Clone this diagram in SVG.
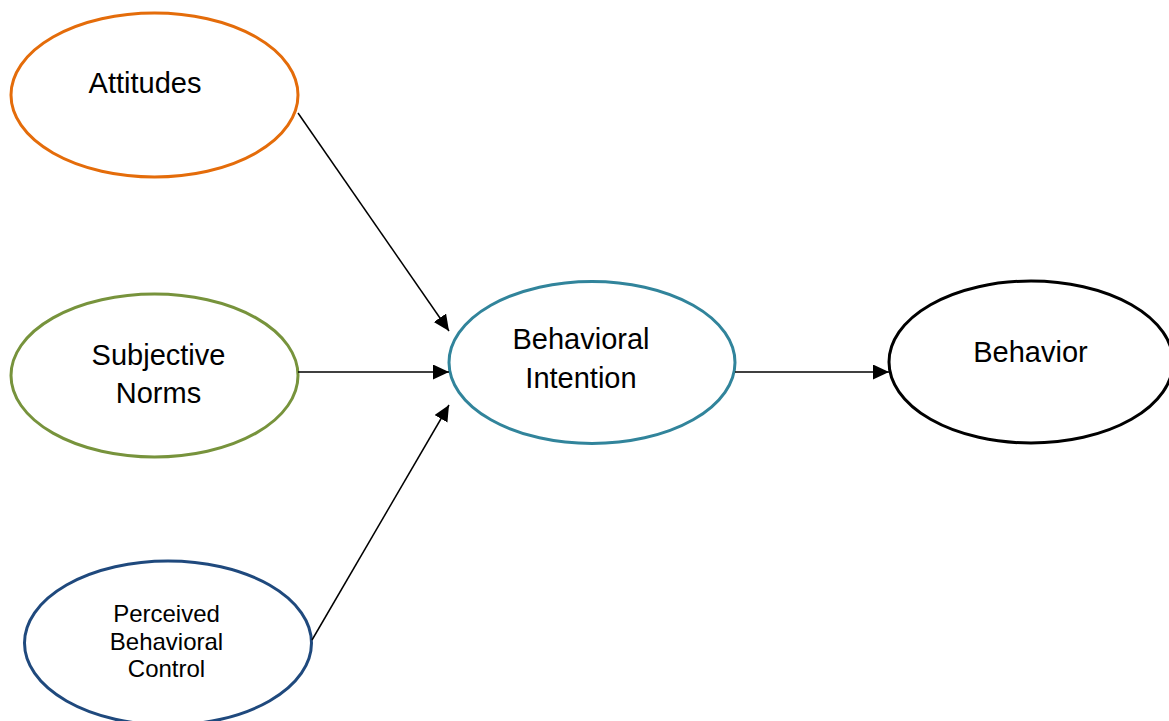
<svg xmlns="http://www.w3.org/2000/svg" width="1169" height="721" viewBox="0 0 1169 721">
<style>
  .node { fill: #ffffff; stroke-width: 3; }
  .lbl { font-family: "Liberation Sans", Arial, sans-serif; font-size: 29px; fill: #000000; text-anchor: middle; }
  .lbl-s { font-family: "Liberation Sans", Arial, sans-serif; font-size: 24px; fill: #000000; text-anchor: middle; }
  .conn { stroke: #000000; stroke-width: 1.5; fill: none; marker-end: url(#arrow); }
</style>
<defs>
  <marker id="arrow" markerUnits="userSpaceOnUse" markerWidth="17" markerHeight="16" refX="16" refY="7.5" orient="auto">
    <path d="M0,0 L16,7.5 L0,15 Z" fill="#000000"/>
  </marker>
</defs>
<rect width="1169" height="721" fill="#ffffff"/>
<g id="attitudes">
  <ellipse class="node" cx="154.5" cy="95" rx="143.5" ry="82" stroke="#E46C0A"/>
  <text class="lbl" x="145" y="93">Attitudes</text>
</g>
<g id="subjective-norms">
  <ellipse class="node" cx="154.5" cy="375.5" rx="143.5" ry="81.5" stroke="#77933C"/>
  <text class="lbl" x="158.5" y="365">Subjective</text>
  <text class="lbl" x="158.5" y="403">Norms</text>
</g>
<g id="perceived-behavioral-control">
  <ellipse class="node" cx="168" cy="643" rx="143.5" ry="82" stroke="#1F497D"/>
  <text class="lbl-s" x="166.5" y="622">Perceived</text>
  <text class="lbl-s" x="166.5" y="650">Behavioral</text>
  <text class="lbl-s" x="166.5" y="677">Control</text>
</g>
<g id="behavioral-intention">
  <ellipse class="node" cx="592" cy="362.5" rx="143" ry="81" stroke="#31849B"/>
  <text class="lbl" x="581" y="349">Behavioral</text>
  <text class="lbl" x="581" y="388">Intention</text>
</g>
<g id="behavior">
  <ellipse class="node" cx="1031" cy="362" rx="142" ry="81" stroke="#000000"/>
  <text class="lbl" x="1030.5" y="362">Behavior</text>
</g>
<g id="connectors">
  <line class="conn" x1="298" y1="113" x2="449" y2="331"/>
  <line class="conn" x1="298" y1="372" x2="449" y2="372"/>
  <line class="conn" x1="312" y1="640" x2="449" y2="405"/>
  <line class="conn" x1="735" y1="372" x2="889" y2="372"/>
</g>
</svg>
